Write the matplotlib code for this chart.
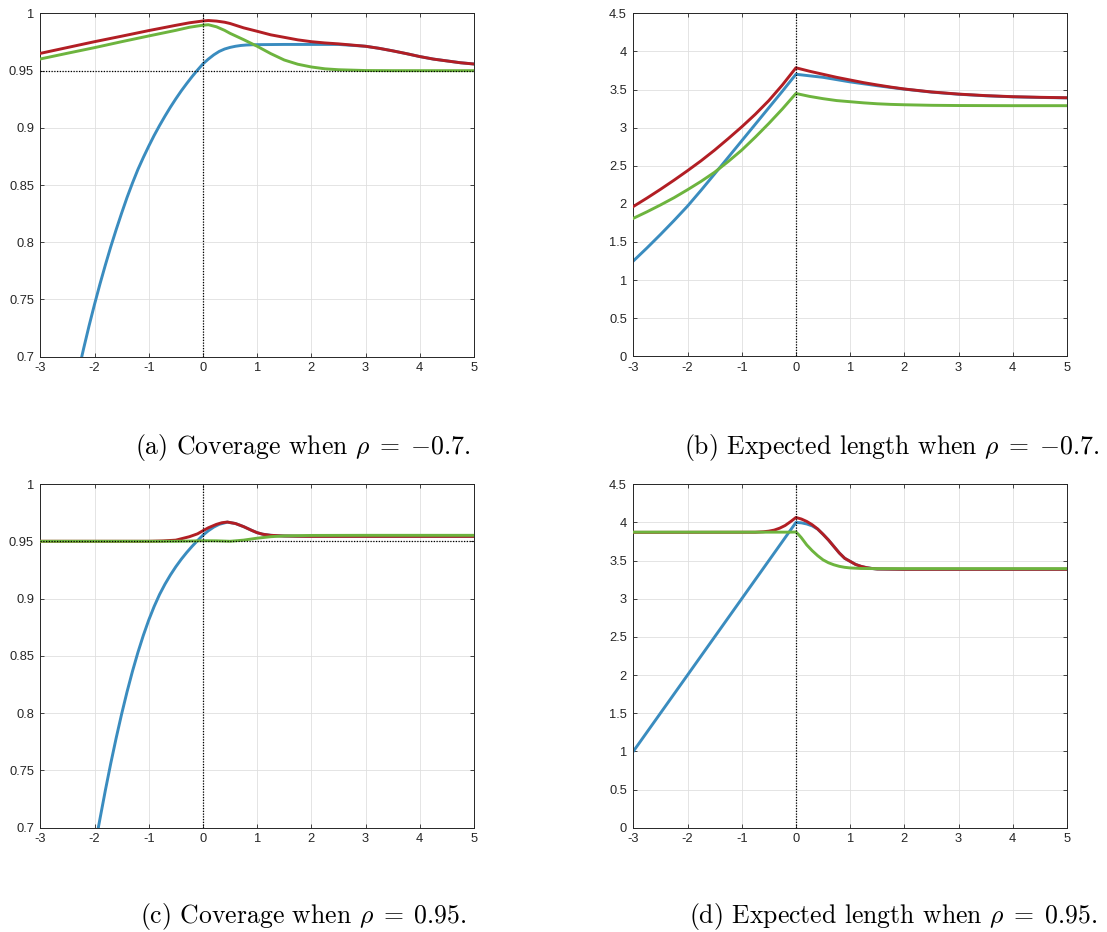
import matplotlib
matplotlib.use("Agg")
import matplotlib.pyplot as plt

plt.rcParams['axes.unicode_minus'] = False
plt.rcParams['mathtext.fontset'] = 'cm'

# ---------------- data ----------------
# Panel (a): coverage, rho = -0.7
xa_r = [-3, -2.5, -2, -1.5, -1, -0.5, -0.25, 0, 0.1, 0.25, 0.4, 0.5, 0.75, 1, 1.25, 1.5, 1.75, 2, 2.25, 2.5,
        3, 3.25, 3.5, 3.75, 4, 4.25, 4.5, 4.75, 5]
red_a = [0.9650, 0.9701, 0.9752, 0.9800, 0.9849, 0.9895, 0.9917, 0.9933, 0.9937, 0.9932, 0.9922, 0.9911,
         0.9873, 0.9843, 0.9812, 0.9790, 0.9768, 0.9752, 0.9741, 0.9733, 0.9712, 0.9694, 0.9672, 0.9648,
         0.9622, 0.9600, 0.9584, 0.9568, 0.9557]
xa_g = [-3, -2.5, -2, -1.5, -1, -0.5, -0.25, 0, 0.1, 0.25, 0.4, 0.5, 0.75, 1, 1.25, 1.5, 1.75, 2, 2.25, 2.5,
        3, 3.5, 4, 4.5, 5]
green_a = [0.9601, 0.9651, 0.9700, 0.9752, 0.9802, 0.9851, 0.9878, 0.9896, 0.9900, 0.9882, 0.9851, 0.9825,
           0.9770, 0.9712, 0.9648, 0.9592, 0.9555, 0.9531, 0.9515, 0.9507, 0.9500, 0.9499, 0.9499, 0.9499, 0.9499]
xa_b = [-2.3, -2.2, -2.1, -2.0, -1.9, -1.8, -1.7, -1.6, -1.5, -1.4, -1.3, -1.2, -1.1, -1.0, -0.9,
        -0.8, -0.7, -0.6, -0.5, -0.4, -0.3, -0.2, -0.1, 0, 0.1, 0.2, 0.3, 0.4, 0.5, 0.6, 0.7, 0.8, 0.9,
        1.0, 1.5, 2.0, 2.5, 3, 3.25, 3.5, 3.75, 4, 4.25, 4.5, 4.75, 5]
blue_a = [0.6866, 0.7073, 0.7271, 0.7457, 0.7634, 0.7801, 0.7961, 0.8111, 0.8254, 0.8391, 0.8517,
          0.8635, 0.8740, 0.8839, 0.8933, 0.9020, 0.9102, 0.9180, 0.9253, 0.9322, 0.9386, 0.9447, 0.9504,
          0.9558, 0.9600, 0.9637, 0.9667, 0.9688, 0.9702, 0.9712, 0.9719, 0.9723, 0.9725, 0.9726, 0.9728,
          0.9728, 0.9728, 0.9712, 0.9694, 0.9672, 0.9648, 0.9622, 0.9600, 0.9584, 0.9568, 0.9557]

# Panel (b): expected length, rho = -0.7
xb_all = [-3, -2.75, -2.5, -2.25, -2, -1.75, -1.5, -1.25, -1, -0.75, -0.5, -0.25, 0,
          0.25, 0.5, 0.75, 1, 1.25, 1.5, 1.75, 2, 2.5, 3, 3.5, 4, 4.5, 5]
red_b = [1.965, 2.075, 2.19, 2.31, 2.435, 2.565, 2.705, 2.855, 3.01, 3.175, 3.355, 3.56, 3.785,
         3.74, 3.70, 3.66, 3.625, 3.59, 3.56, 3.532, 3.507, 3.468, 3.44, 3.42, 3.406, 3.398, 3.392]
blue_b = [1.25, 1.42, 1.597, 1.78, 1.97, 2.178, 2.393, 2.61, 2.827, 3.044, 3.261, 3.478, 3.70,
          3.68, 3.66, 3.63, 3.60, 3.575, 3.55, 3.527, 3.505, 3.466, 3.438, 3.418, 3.404, 3.396, 3.390]
green_b = [1.81, 1.895, 1.985, 2.08, 2.185, 2.295, 2.415, 2.555, 2.705, 2.875, 3.055, 3.245, 3.448,
           3.41, 3.38, 3.355, 3.34, 3.325, 3.313, 3.305, 3.30, 3.293, 3.29, 3.289, 3.288, 3.288, 3.288]

# Panel (c): coverage, rho = 0.95
xc_r = [-3, -1, -0.75, -0.5, -0.4, -0.25, -0.1, 0, 0.1, 0.25, 0.35, 0.45, 0.6, 0.75, 0.9, 1, 1.1, 1.25,
        1.5, 1.75, 2, 3, 4, 5]
red_c = [0.9500, 0.9500, 0.9503, 0.9510, 0.9522, 0.9540, 0.9565, 0.9592, 0.9618, 0.9648, 0.9662, 0.9668,
         0.9655, 0.9628, 0.9595, 0.9575, 0.9562, 0.9552, 0.9546, 0.9544, 0.9543, 0.9543, 0.9543, 0.9543]
xc_g = [-3, -0.5, -0.25, 0, 0.25, 0.5, 0.75, 1, 1.25, 1.5, 2, 3, 4, 5]
green_c = [0.9500, 0.9500, 0.9502, 0.9505, 0.9504, 0.9500, 0.9510, 0.9527, 0.9540, 0.9547, 0.9551, 0.9552,
           0.9552, 0.9552]
xc_b = [-2.0, -1.93, -1.9, -1.8, -1.7, -1.6, -1.5, -1.4, -1.3, -1.2, -1.1, -1.0, -0.9, -0.8, -0.7, -0.6,
        -0.5, -0.4, -0.3, -0.2, -0.1, 0, 0.1, 0.2, 0.3, 0.45, 0.6, 0.75, 0.9, 1, 1.1, 1.25, 1.5, 1.75, 2,
        3, 4, 5]
blue_c = [0.682, 0.700, 0.7076, 0.7326, 0.7562, 0.7784, 0.7992, 0.8186, 0.8365, 0.8529, 0.8678, 0.8812,
          0.8931, 0.9036, 0.9126, 0.9206, 0.9278, 0.9343, 0.9402, 0.9456, 0.9506, 0.9553, 0.9592, 0.9624,
          0.9648, 0.9667, 0.9655, 0.9628, 0.9595, 0.9575, 0.9562, 0.9552, 0.9546, 0.9544, 0.9543, 0.9543,
          0.9543, 0.9543]

# Panel (d): expected length, rho = 0.95
xd_r = [-3, -0.75, -0.6, -0.5, -0.4, -0.3, -0.2, -0.1, 0, 0.1, 0.2, 0.3, 0.4, 0.5, 0.6, 0.7, 0.8, 0.9,
        1.0, 1.1, 1.2, 1.3, 1.4, 1.5, 2, 3, 4, 5]
red_d = [3.870, 3.872, 3.878, 3.886, 3.900, 3.925, 3.960, 4.010, 4.065, 4.045, 4.013, 3.970, 3.915, 3.845,
         3.770, 3.685, 3.600, 3.530, 3.490, 3.450, 3.425, 3.408, 3.397, 3.390, 3.386, 3.386, 3.386, 3.386]
xd_b = [-3, 0, 0.1, 0.2, 0.3, 0.4, 0.5, 0.6, 0.7, 0.8, 0.9, 1.0, 1.1, 1.2, 1.3, 1.4, 1.5, 2, 3, 4, 5]
blue_d = [1.00, 4.00, 3.995, 3.980, 3.955, 3.913, 3.845, 3.770, 3.685, 3.600, 3.530, 3.490, 3.450, 3.425,
          3.408, 3.397, 3.390, 3.386, 3.386, 3.386, 3.386]
xd_g = [-3, -0.1, 0, 0.05, 0.1, 0.2, 0.3, 0.4, 0.5, 0.6, 0.7, 0.8, 0.9, 1.0, 1.2, 1.5, 2, 3, 4, 5]
green_d = [3.873, 3.873, 3.875, 3.840, 3.800, 3.705, 3.630, 3.565, 3.510, 3.472, 3.445, 3.425, 3.412,
           3.404, 3.397, 3.395, 3.395, 3.395, 3.395, 3.395]

x_ticks = [-3, -2, -1, 0, 1, 2, 3, 4, 5]
x_ticklabels = ['-3', '-2', '-1', '0', '1', '2', '3', '4', '5']
cov_ticks = [0.7, 0.75, 0.8, 0.85, 0.9, 0.95, 1.0]
cov_ticklabels = ['0.7', '0.75', '0.8', '0.85', '0.9', '0.95', '1']
len_ticks = [0, 0.5, 1, 1.5, 2, 2.5, 3, 3.5, 4, 4.5]
len_ticklabels = ['0', '0.5', '1', '1.5', '2', '2.5', '3', '3.5', '4', '4.5']
nominal = 0.95

captions = [r"(a) Coverage when $\rho \;=\; {-0.7}$.",
            r"(b) Expected length when $\rho \;=\; {-0.7}$.",
            r"(c) Coverage when $\rho \;=\; 0.95$.",
            r"(d) Expected length when $\rho \;=\; 0.95$."]

# ---------------- styling ----------------
BLUE = '#3A8CBF'
RED = '#B21E24'
GREEN = '#6DB43E'
AXC = '#262626'
LW = 2.1

fig = plt.figure(figsize=(11.07, 9.32), dpi=100)

pos = {
    'a': [40.3 / 1107, 1 - 356.7 / 932, 433.7 / 1107, 343.4 / 932],
    'b': [633.3 / 1107, 1 - 356.3 / 932, 433.7 / 1107, 343.0 / 932],
    'c': [40.3 / 1107, 1 - 827.7 / 932, 433.7 / 1107, 343.7 / 932],
    'd': [633.3 / 1107, 1 - 827.7 / 932, 433.7 / 1107, 343.4 / 932],
}


def style(ax, yticks, yticklabels, ylim, hline):
    ax.set_xlim(-3, 5)
    ax.set_ylim(*ylim)
    ax.set_xticks(x_ticks)
    ax.set_xticklabels(x_ticklabels)
    ax.set_yticks(yticks)
    ax.set_yticklabels(yticklabels)
    ax.grid(True, color='#dfdfdf', lw=0.6, zorder=0)
    ax.set_axisbelow(True)
    for s in ax.spines.values():
        s.set_color(AXC)
        s.set_linewidth(0.7)
    ax.tick_params(axis='both', direction='in', length=3.2, width=0.6, color=AXC,
                   top=True, right=True, labelsize=9.3, labelcolor=AXC)
    ax.tick_params(axis='x', pad=4)
    ax.tick_params(axis='y', pad=4.5)
    for lab in ax.get_xticklabels() + ax.get_yticklabels():
        lab.set_family('Liberation Sans')
    ax.axvline(0, color='black', lw=0.9, ls=(0, (1, 1.2)), zorder=5)
    if hline is not None:
        ax.axhline(hline, color='black', lw=0.9, ls=(0, (1, 1.2)), zorder=5)


def draw(ax, xb, yb, xr, yr, xg, yg):
    ax.plot(xb, yb, color=BLUE, lw=LW, zorder=2, solid_joinstyle='round')
    ax.plot(xr, yr, color=RED, lw=LW, zorder=3, solid_joinstyle='round')
    ax.plot(xg, yg, color=GREEN, lw=LW, zorder=4, solid_joinstyle='round')


ax = fig.add_axes(pos['a'])
draw(ax, xa_b, blue_a, xa_r, red_a, xa_g, green_a)
style(ax, cov_ticks, cov_ticklabels, (0.7, 1.0), nominal)

ax = fig.add_axes(pos['b'])
draw(ax, xb_all, blue_b, xb_all, red_b, xb_all, green_b)
style(ax, len_ticks, len_ticklabels, (0, 4.5), None)

ax = fig.add_axes(pos['c'])
draw(ax, xc_b, blue_c, xc_r, red_c, xc_g, green_c)
style(ax, cov_ticks, cov_ticklabels, (0.7, 1.0), nominal)

ax = fig.add_axes(pos['d'])
draw(ax, xd_b, blue_d, xd_r, red_d, xd_g, green_d)
style(ax, len_ticks, len_ticklabels, (0, 4.5), None)

cap_pos = [(302.5 / 1107, 1 - 448 / 932), (892 / 1107, 1 - 448 / 932),
           (303 / 1107, 1 - 917 / 932), (893 / 1107, 1 - 917 / 932)]
for (cx, cy), txt in zip(cap_pos, captions):
    fig.text(cx, cy, txt, ha='center', va='center', fontsize=18.5, family='cmr10', color='black')

fig.savefig('out.png', dpi=100)
